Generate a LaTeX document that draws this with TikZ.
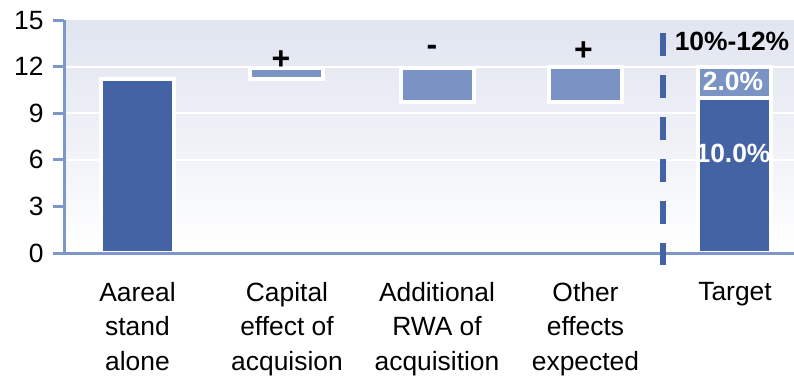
\documentclass[tikz,border=0pt]{standalone}
\usepackage{fontspec}
\setmainfont{Liberation Sans}
\usetikzlibrary{positioning}
\definecolor{bardark}{HTML}{4363A5}
\definecolor{barlight}{HTML}{7A93C4}
\definecolor{axisblue}{HTML}{7F96C8}
\definecolor{bgtop}{HTML}{E1E5F0}
\tikzset{
  bar/.style={draw=white, line width=2pt},
  lbl/.style={font=\fontsize{13.2}{17.3}\selectfont, inner sep=0pt},
  blbl/.style={font=\fontsize{13.2}{17}\selectfont\bfseries, inner sep=0pt},
  sign/.style={font=\fontsize{16}{18}\selectfont\bfseries, inner sep=0pt},
  axisline/.style={axisblue, line width=1.5pt},
}

\begin{document}
\begin{tikzpicture}[x=0.5pt, y=0.5pt]
    \useasboundingbox (0,0) rectangle (794,376);
    \begin{scope}[shift={(0,123)}, y=7.765pt]
      \shade[top color=bgtop, bottom color=white, middle color=bgtop!55] (64,0) rectangle (794,15);
      \foreach \v in {6,9,12}
        \draw[white, line width=1pt] (64,\v) -- (794,\v);

      \fill[bardark, bar] (101,0) rectangle (174,11.2);
      \fill[barlight, bar] (249.5,11.2) rectangle (322.5,11.9);
      \fill[barlight, bar] (400.5,9.7) rectangle (473.5,11.9);
      \fill[barlight, bar] (549,9.7) rectangle (622,12);
      \fill[bardark, bar] (697.5,0) rectangle (770.5,10);
      \fill[barlight, bar] (697.5,10) rectangle (770.5,12);

      \draw[axisline] (64,15) -- (64,0) -- (794,0);
      \foreach \v in {0,3,...,15} {
        \draw[axisline] (53,\v) -- (64,\v);
        \node[lbl, anchor=east] (tick\v) at (44,\v) {\v};
      }

      \coordinate (dtop) at (663,14.17);
      \coordinate (dbot) at (663,-0.77);
      \draw[bardark, line width=3pt, dash pattern=on 11.5pt off 9.5pt] (dtop) -- (dbot);

      \node[sign] (plus1) at (281,12.45) {+};
      \node[sign] (minus) at (432,13.04) {-};
      \node[sign] (plus2) at (583.5,12.97) {+};
      \node[blbl] (range) at (732,13.6) {10\%-12\%};
      \node[blbl, white] (tgtlo) at (733,11.03) {2.0\%};
      \node[blbl, white] (tgthi) at (733,6.44) {10.0\%};

      % category labels under the axis
      \node[lbl, align=center, anchor=north] (aareal) at (137.5,-1.85) {Aareal\\stand\\alone};
      \node[lbl, align=center, anchor=north] (capital) at (287,-1.85) {Capital\\effect of\\acquision};
      \node[lbl, align=center, anchor=north] (rwa) at (437,-1.85) {Additional\\RWA of\\acquisition};
      \node[lbl, align=center, anchor=north] (other) at (585.5,-1.85) {Other\\effects\\expected};
      \node[lbl, align=center, anchor=north] (target) at (735,-1.85) {Target};
    \end{scope}
\end{tikzpicture}
\end{document}
